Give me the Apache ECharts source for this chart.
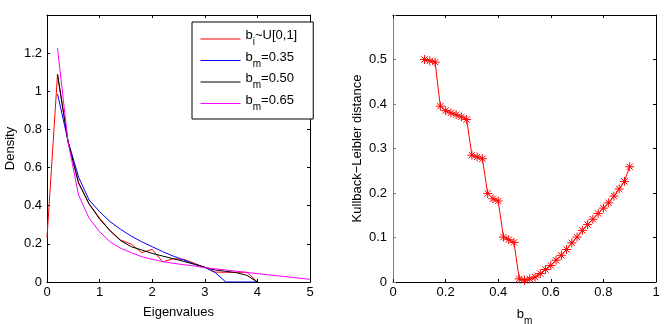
<!DOCTYPE html>
<html>
<head>
<meta charset="utf-8">
<script src="https://cdn.jsdelivr.net/npm/echarts@6/dist/echarts.min.js"></script>
<style>
html, body { margin: 0; padding: 0; background: #fff; }
#chart { width: 664px; height: 324px; }
</style>
</head>
<body>
<div id="chart"></div>
<script>
// left panel: eigenvalue densities
var eigenvalues = [0, 0.2, 0.4, 0.6, 0.8, 1.0, 1.2, 1.4, 1.6, 1.8, 2.0, 2.2, 2.4, 2.6, 2.8, 3.0, 3.2, 3.4, 3.6, 3.8, 4.0, 4.2, 4.4, 4.6, 4.8, 5.0];
var densUniform = [0.233, 1.089, 0.735, 0.52, 0.41, 0.335, 0.27, 0.22, 0.199, 0.154, 0.171, 0.105, 0.122, 0.119, 0.098, 0.077, 0.052, 0.051, 0.051, 0.051, 0, null, null, null, null, null];
var dens035 = [null, 0.986, 0.74, 0.55, 0.43, 0.369, 0.316, 0.276, 0.241, 0.211, 0.185, 0.159, 0.136, 0.115, 0.094, 0.077, 0.049, 0, 0, 0, 0, null, null, null, null, null];
var dens050 = [null, 1.089, 0.735, 0.52, 0.409, 0.33, 0.268, 0.217, 0.185, 0.168, 0.150, 0.136, 0.122, 0.108, 0.093, 0.077, 0.063, 0.056, 0.049, 0.035, 0, null, null, null, null, null];
var dens065 = [null, 1.226, 0.735, 0.456, 0.334, 0.264, 0.211, 0.177, 0.154, 0.133, 0.119, 0.107, 0.098, 0.091, 0.084, 0.075, 0.069, 0.063, 0.057, 0.050, 0.044, 0.038, 0.032, 0.026, 0.020, 0.014];
var legendNames = ['bi~U[0,1]', 'bm=0.35', 'bm=0.50', 'bm=0.65'];
var legendRich = ['{b|b}{s|i}{b|~U[0,1]}', '{b|b}{s|m}{b|=0.35}', '{b|b}{s|m}{b|=0.50}', '{b|b}{s|m}{b|=0.65}'];

// right panel: KL distance vs b_m
var bm = [0.12, 0.14, 0.16, 0.18, 0.20, 0.22, 0.24, 0.26, 0.28, 0.30, 0.32, 0.34, 0.36, 0.38, 0.40, 0.42, 0.44, 0.46, 0.48, 0.50,
          0.52, 0.54, 0.56, 0.58, 0.60, 0.62, 0.64, 0.66, 0.68, 0.70, 0.72, 0.74, 0.76, 0.78, 0.80, 0.82, 0.84, 0.86, 0.88, 0.90];
var klDist = [0.500, 0.497, 0.494, 0.395, 0.385, 0.380, 0.376, 0.371, 0.365, 0.285, 0.281, 0.277, 0.199, 0.187, 0.182, 0.101, 0.095, 0.089, 0.007, 0.004,
              0.007, 0.011, 0.019, 0.028, 0.037, 0.049, 0.060, 0.073, 0.088, 0.101, 0.116, 0.129, 0.141, 0.154, 0.166, 0.178, 0.193, 0.209, 0.226, 0.259];

var FONT = 'Liberation Sans';
var FS = 13;
var chart = echarts.init(document.getElementById('chart'));

function pairs(xs, ys) {
	var out = [];
	xs.forEach(function(x, i) {
		out.push([x, ys[i]]);
	});
	return out;
}

function oneDec(v) {
	return String(Math.round(v * 10) / 10);
}

function frameAxis(grid, pos, min, max, step, fmt, color, margin) {
	color = color || '#000';
	return {
		type: 'value',
		gridIndex: grid,
		position: pos,
		min: min,
		max: max,
		interval: step,
		axisLine: { show: true, onZero: false, lineStyle: { color: color, width: 1 } },
		axisTick: { show: true, inside: true, length: 3, lineStyle: { color: color, width: 1 } },
		axisLabel: { show: !!fmt, formatter: fmt, color: '#000', fontFamily: FONT, fontSize: FS, margin: margin || 4 },
		splitLine: { show: false }
	};
}

var subRich = {
	b: { fontFamily: FONT, fontSize: FS, color: '#000', padding: [0, 0, 7, 0] },
	s: { fontFamily: FONT, fontSize: 10, color: '#000', padding: [7, 0, 0, 0] }
};

var xLeft = frameAxis(0, 'bottom', 0, 5, 1, oneDec);
xLeft.name = 'Eigenvalues';
xLeft.nameLocation = 'middle';
xLeft.nameGap = 24;
xLeft.nameTextStyle = { fontFamily: FONT, fontSize: FS, color: '#000' };

var yLeft = frameAxis(0, 'left', 0, 1.4, 0.2, function(v) { return v > 1.3 ? '' : oneDec(v); }, '#000', 5);
yLeft.name = 'Density';
yLeft.nameLocation = 'middle';
yLeft.nameGap = 30;
yLeft.nameTextStyle = { fontFamily: FONT, fontSize: FS, color: '#000' };

var xRight = frameAxis(1, 'bottom', 0, 1, 0.2, oneDec);
xRight.name = '{b|b}{s|m}';
xRight.nameLocation = 'middle';
xRight.nameGap = 26;
xRight.nameTextStyle = { rich: subRich };

var yRight = frameAxis(1, 'left', 0, 0.6, 0.1, function(v) { return v > 0.55 ? '' : oneDec(v); }, '#808080', 6);
yRight.name = 'Kullback\u2212Leibler distance';
yRight.nameLocation = 'middle';
yRight.nameGap = 29;
yRight.nameTextStyle = { fontFamily: FONT, fontSize: FS, color: '#000' };

var lineColors = ['#ff0000', '#0000ff', '#000000', '#ff00ff'];
var densSets = [densUniform, dens035, dens050, dens065];

var series = densSets.map(function(d, i) {
	return {
		name: legendNames[i],
		type: 'line',
		xAxisIndex: 0,
		yAxisIndex: 0,
		data: pairs(eigenvalues, d),
		symbol: 'none',
		lineStyle: { color: lineColors[i], width: 1 },
		itemStyle: { color: lineColors[i] }
	};
});

series.push({
	name: 'kl',
	type: 'line',
	xAxisIndex: 2,
	yAxisIndex: 2,
	data: pairs(bm, klDist),
	symbol: 'path://M0,5L10,5M5,0L5,10M1.5,1.5L8.5,8.5M1.5,8.5L8.5,1.5',
	symbolSize: 9,
	showAllSymbol: true,
	lineStyle: { color: '#ff0000', width: 1 },
	itemStyle: { color: 'none', borderColor: '#ff0000', borderWidth: 1 }
});

var legendData = legendNames.map(function(n, i) {
	return {
		name: n,
		lineStyle: { color: lineColors[i], width: 1 },
		itemStyle: { color: lineColors[i], opacity: 0 }
	};
});

chart.setOption({
	animation: false,
	backgroundColor: '#fff',
	grid: [
		{ left: 47, top: 15, width: 263, height: 267, outerBoundsMode: 'none', containLabel: false },
		{ left: 393, top: 15, width: 263, height: 267, outerBoundsMode: 'none', containLabel: false }
	],
	legend: {
		data: legendData,
		orient: 'vertical',
		left: 192,
		top: 22,
		itemWidth: 40,
		itemHeight: 14,
		itemGap: 3,
		padding: [7, 16, 7, 8],
		borderColor: '#000',
		borderWidth: 1,
		backgroundColor: '#fff',
		itemStyle: { opacity: 0 },
		lineStyle: { width: 1 },
		formatter: function(name) {
			return legendRich[legendNames.indexOf(name)];
		},
		textStyle: { rich: subRich }
	},
	xAxis: [
		xLeft,
		frameAxis(0, 'top', 0, 5, 1, null),
		xRight,
		frameAxis(1, 'top', 0, 1, 0.2, null)
	],
	yAxis: [
		yLeft,
		frameAxis(0, 'right', 0, 1.4, 0.2, null),
		yRight,
		frameAxis(1, 'right', 0, 0.6, 0.1, null)
	],
	series: series
});
</script>
</body>
</html>
